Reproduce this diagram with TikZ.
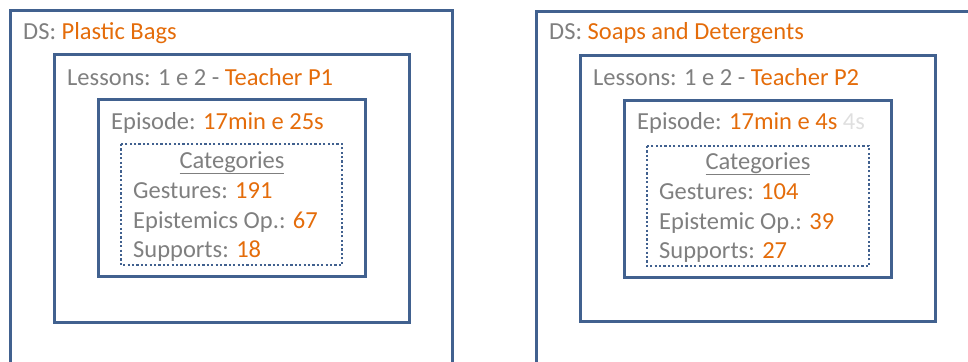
\documentclass[tikz,border=0pt]{standalone}
\usepackage{fontspec}
\setmainfont{Carlito}
\usepackage{xcolor}
\definecolor{boxblue}{HTML}{41618F}
\definecolor{txtgray}{HTML}{7F7F7F}
\definecolor{txtorange}{HTML}{E46C0A}
\newcommand{\hl}[1]{\textcolor{txtorange}{#1}}
\begin{document}
\begin{tikzpicture}[x=1pt,y=-1pt,
  frame/.style={draw=boxblue, line width=3pt},
  catframe/.style={draw=boxblue, line width=2.8pt, dash pattern=on 2.2pt off 2.2pt},
  txt/.style={anchor=base west, inner sep=0pt, text=txtgray, font=\fontsize{24.5}{28}\selectfont}]
\useasboundingbox (0,0) rectangle (968,361);
\clip (0,0) rectangle (968,361);
% left panel
\draw[frame] (10,11) rectangle (452,380);
\draw[frame] (54,55) rectangle (409,322);
\draw[frame] (98,99) rectangle (365,276);
\draw[catframe] (121,144) rectangle (342,265);
\node[txt] (dsA) at (23,40) {DS: \hl{Plastic Bags}};
\node[txt] (lesA) at (67,85) {Lessons: 1 e 2 - \hl{Teacher P1}};
\node[txt] (epA) at (111,129) {Episode: \hl{17min e 25s}};
\node[txt, anchor=base] (catA) at (232,168) {\underline{Categories}};
\node[txt] (gesA) at (133,198) {Gestures: \hl{191}};
\node[txt] (epiA) at (133,228) {Epistemics Op.: \hl{67}};
\node[txt] (supA) at (133,257) {Supports: \hl{18}};
% right panel
\draw[frame] (536,12) rectangle (990,380);
\draw[frame] (580,56) rectangle (935,321);
\draw[frame] (624,100) rectangle (891,277);
\draw[catframe] (647,146) rectangle (869,266);
\node[txt] (dsB) at (549,40) {DS: \hl{Soaps and Detergents}};
\node[txt] (lesB) at (593,85) {Lessons: 1 e 2 - \hl{Teacher P2}};
\node[txt] (epB) at (637,129) {Episode: \hl{17min e 4s} \textcolor{gray!25}{4s}};
\node[txt, anchor=base] (catB) at (758,169) {\underline{Categories}};
\node[txt] (gesB) at (659,199) {Gestures: \hl{104}};
\node[txt] (epiB) at (659,229) {Epistemic Op.: \hl{39}};
\node[txt] (supB) at (659,258) {Supports: \hl{27}};
\end{tikzpicture}
\end{document}
